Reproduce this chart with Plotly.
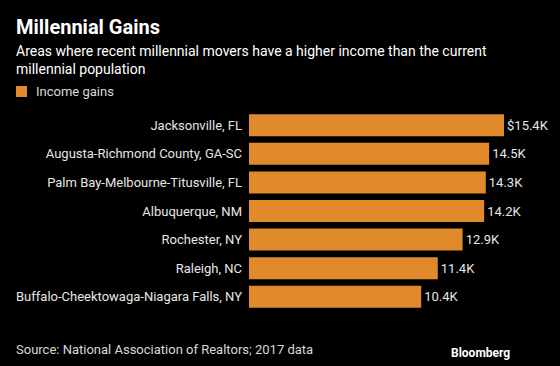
import plotly.graph_objects as go

categories = [
    "Jacksonville, FL",
    "Augusta-Richmond County, GA-SC",
    "Palm Bay-Melbourne-Titusville, FL",
    "Albuquerque, NM",
    "Rochester, NY",
    "Raleigh, NC",
    "Buffalo-Cheektowaga-Niagara Falls, NY",
]
values = [15.4, 14.5, 14.3, 14.2, 12.9, 11.4, 10.4]
value_labels = ["$15.4K", "14.5K", "14.3K", "14.2K", "12.9K", "11.4K", "10.4K"]

ORANGE = "#E08A2B"
FONT = "Roboto"
W, H = 560, 366
L, R, T, B = 249, 30, 111, 55
px_per_unit = 16.56
xmax = (W - L - R) / px_per_unit

fig = go.Figure()
fig.add_trace(go.Bar(
    x=values, y=categories, orientation="h",
    marker=dict(color=ORANGE, line=dict(width=0)),
    width=0.77,
    text=value_labels, textposition="outside",
    textfont=dict(color="#e6e6e6", size=13, family=FONT),
    cliponaxis=False, name="Income gains", showlegend=False,
    hoverinfo="skip",
))

fig.update_layout(
    width=W, height=H,
    paper_bgcolor="#000000", plot_bgcolor="#000000",
    margin=dict(l=L, r=R, t=T, b=B),
    font=dict(family=FONT, color="#e6e6e6", size=13),
    xaxis=dict(range=[0, xmax], visible=False, fixedrange=True),
    yaxis=dict(autorange=False, range=[6.5, -0.5], type="category",
               showgrid=False, zeroline=False, showline=False, ticks="",
               ticklabelstandoff=6, fixedrange=True,
               tickfont=dict(size=13, color="#e6e6e6", family=FONT)),
    bargap=0.23,
)

pw = W - L - R
ph = H - T - B

def px(xp):
    return (xp - L) / pw

def py(yp):
    return (H - B - yp) / ph

fig.add_annotation(text="<b>Millennial Gains</b>", xref="paper", yref="paper",
                   x=px(14), y=py(27), xanchor="left", yanchor="middle",
                   showarrow=False, font=dict(size=20, color="#ffffff", family=FONT))
fig.add_annotation(text="Areas where recent millennial movers have a higher income than the current<br>millennial population",
                   xref="paper", yref="paper", x=px(14), y=py(41), xanchor="left", yanchor="top",
                   align="left", showarrow=False,
                   font=dict(size=14, color="#ffffff", family=FONT))
fig.add_shape(type="rect", xref="paper", yref="paper",
              x0=px(16), x1=px(27), y0=py(86), y1=py(97),
              fillcolor=ORANGE, line=dict(width=0))
fig.add_annotation(text="Income gains", xref="paper", yref="paper",
                   x=px(34), y=py(91.5), xanchor="left", yanchor="middle",
                   showarrow=False, font=dict(size=13, color="#d9d9d9", family=FONT))
fig.add_annotation(text="Source: National Association of Realtors; 2017 data", xref="paper", yref="paper",
                   x=px(14), y=py(349), xanchor="left", yanchor="middle",
                   showarrow=False, font=dict(size=13, color="#d9d9d9", family=FONT))
fig.add_annotation(text="<b>Bloomberg</b>", xref="paper", yref="paper",
                   x=px(512), y=py(353), xanchor="right", yanchor="middle",
                   showarrow=False, font=dict(size=12, color="#ffffff", family=FONT))

fig.write_html("out.html", config={"displayModeBar": False},
               post_script="document.body.style.margin='0';document.body.style.background='#000';")
